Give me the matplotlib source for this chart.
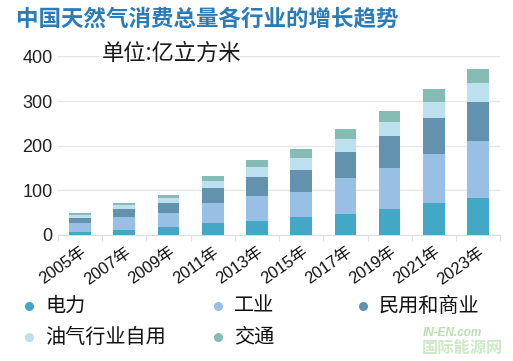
import numpy as np
import matplotlib
matplotlib.use('Agg')
import matplotlib.pyplot as plt
from matplotlib.lines import Line2D
from matplotlib.transforms import ScaledTranslation

plt.rcParams['font.family'] = ['Liberation Sans', 'Noto Sans CJK SC', 'DejaVu Sans']

# data (亿立方米)
years = ['2005年', '2007年', '2009年', '2011年', '2013年',
         '2015年', '2017年', '2019年', '2021年', '2023年']
power = [5.5, 11.5, 18, 26, 30, 38.6, 47, 57.6, 70, 83]
industry = [20.5, 28, 29.5, 44.6, 56, 56.8, 80, 93, 112, 127]
residential = [12.5, 19, 24, 34.8, 44, 50.8, 57.6, 70, 80, 88]
oilgas = [6.5, 9, 9.8, 15, 22.7, 25, 29.5, 32, 35.4, 41.4]
transport = [3.8, 3.8, 8, 11.4, 16, 21, 23.5, 25, 30, 32.4]

names = ['电力', '工业', '民用和商业', '油气行业自用', '交通']
colors = ['#42a8c6', '#98c0e4', '#6292ad', '#bde0ee', '#84bbb2']
series = [power, industry, residential, oilgas, transport]

fig = plt.figure(figsize=(5.13, 3.61), dpi=100)
ax = fig.add_axes([0.113, 0.350, 0.862, 0.4935])

x = np.arange(len(years))
bottom = np.zeros(len(years))
for vals, c in zip(series, colors):
    ax.bar(x, vals, width=0.49, bottom=bottom, color=c, edgecolor='none', zorder=3)
    bottom += np.array(vals)

ax.set_xlim(-0.5, len(years) - 0.5)
ax.set_ylim(0, 400)
ax.set_yticks([0, 100, 200, 300, 400])
ax.grid(axis='y', color='#e6e6e6', linewidth=1, zorder=0)
for s in ['top', 'right', 'left']:
    ax.spines[s].set_visible(False)
ax.spines['bottom'].set_color('#dcdcdc')
ax.tick_params(axis='y', length=0, pad=4, labelsize=13, labelcolor='#222222')

ax.set_xticks(x)
ax.set_xticklabels(years, rotation=35, ha='right', fontsize=11.8, color='#111111')
ax.tick_params(axis='x', which='major', length=0, pad=7)
ax.set_xticks(np.arange(-0.5, len(years), 1), minor=True)
ax.tick_params(axis='x', which='minor', length=4, color='#dcdcdc')
shift = ScaledTranslation(9 / 100, 0, fig.dpi_scale_trans)
for lab in ax.get_xticklabels():
    lab.set_transform(lab.get_transform() + shift)

# title and unit
fig.text(16 / 513, 1 - 19 / 361, '中国天然气消费总量各行业的增长趋势', fontsize=16.2,
         fontweight='bold', color='#2b7bb9', va='center', family=['Noto Sans CJK SC'])
fig.text(102 / 513, 1 - 53 / 361, '单位:亿立方米', fontsize=16, color='#1a1a1a',
         va='center', family=['Noto Sans CJK SC'])

# legend drawn by hand
spots = [(29, 306), (218, 306), (363, 306), (29, 337), (218, 337)]
for (px, py), name, c in zip(spots, names, colors):
    fig.add_artist(Line2D([px / 513], [1 - py / 361], marker='o', markersize=5.5,
                          color=c, linestyle='none', transform=fig.transFigure))
    fig.text((px + 16) / 513, 1 - py / 361, name, fontsize=14.5, color='#111111',
             va='center', family=['Noto Sans CJK SC'])

# watermark
fig.text(423 / 513, 1 - 333 / 361, 'IN-EN.com', fontsize=8.5, fontweight='bold',
         style='italic', color='#b9dfb0', va='center')
fig.text(422 / 513, 1 - 348 / 361, '国际能源网', fontsize=11.7, fontweight='bold',
         color='#cde9c6', va='center', family=['Noto Sans CJK SC'])

fig.savefig('out.png', dpi=100)
